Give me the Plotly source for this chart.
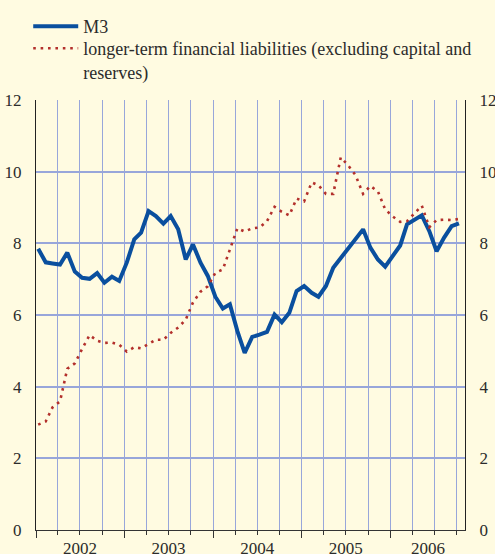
import pandas as pd
import plotly.graph_objects as go

# monthly observations, Jan 2002 onwards (annual percentage changes)
months = pd.date_range("2002-01-01", periods=58, freq="MS") + pd.Timedelta(days=9)

m3 = [7.85, 7.47, 7.44, 7.41, 7.74, 7.21, 7.04, 7.01, 7.17, 6.90, 7.07, 6.95,
      7.46, 8.11, 8.30, 8.90, 8.76, 8.55, 8.76, 8.39, 7.55, 7.97, 7.46, 7.09,
      6.51, 6.18, 6.30, 5.55, 4.94, 5.39, 5.45, 5.53, 6.01, 5.80, 6.06, 6.67,
      6.81, 6.62, 6.51, 6.81, 7.32, 7.60, 7.85, 8.11, 8.39, 7.88, 7.55, 7.35,
      7.65, 7.94, 8.53, 8.67, 8.78, 8.34, 7.78, 8.16, 8.48, 8.56]

longer_term = [2.94, 3.03, 3.42, 3.59, 4.50, 4.65, 5.05, 5.44, 5.28, 5.22, 5.23, 5.17,
               4.98, 5.10, 5.07, 5.20, 5.31, 5.31, 5.50, 5.65, 5.87, 6.35, 6.65, 6.80,
               7.18, 7.27, 7.85, 8.42, 8.33, 8.42, 8.44, 8.62, 9.02, 8.88, 8.78, 9.25,
               9.17, 9.70, 9.62, 9.38, 9.38, 10.40, 10.18, 9.90, 9.38, 9.60, 9.45, 8.95,
               8.75, 8.60, 8.62, 8.85, 9.05, 8.45, 8.65, 8.66, 8.65, 8.68]

year_labels = ["2002", "2003", "2004", "2005", "2006"]
year_label_pos = ["2002-07-01", "2003-07-01", "2004-07-01", "2005-07-01", "2006-06-05"]

x_range = ["2002-01-01", "2006-11-04"]
bg = "#fffbe1"
grid = "#98a6da"
serif = "Liberation Serif"  # a single family name, a list gets ignored
txt = "#2b2b2b"

fig = go.Figure()
fig.add_trace(go.Scatter(x=months, y=m3, name="M3", mode="lines", legend="legend",
                         line=dict(color="#0a4f9e", width=4)))
fig.add_trace(go.Scatter(x=months, y=longer_term, legend="legend2",
                         name="longer-term financial liabilities (excluding capital and<br>reserves)",
                         mode="lines",
                         line=dict(color="#b3302c", width=2.6, dash="2.6px,4.8px")))
# empty trace so the overlay axes are drawn
fig.add_trace(go.Scatter(x=[None], y=[None], xaxis="x2", yaxis="y2", showlegend=False,
                         hoverinfo="skip"))

leg = dict(xref="container", yref="container", x=0.057, xanchor="left", yanchor="top",
           bgcolor="rgba(0,0,0,0)", font=dict(family=serif, size=18, color=txt),
           valign="top", itemwidth=45)

fig.update_layout(
    width=495, height=554,
    paper_bgcolor=bg, plot_bgcolor=bg,
    margin=dict(l=36, r=30, t=100, b=24, autoexpand=False),
    font=dict(family=serif, size=17, color=txt),
    legend=dict(leg, y=0.9856),
    legend2=dict(leg, y=0.9458),
    xaxis=dict(type="date", range=x_range, tick0="2002-01-01", dtick="M12",
               showticklabels=False, ticks="outside", ticklen=7, tickcolor="#333",
               showgrid=True, gridcolor=grid, gridwidth=1,
               showline=True, linecolor="#333", linewidth=1, zeroline=False,
               minor=dict(dtick="M3", tick0="2002-01-01", ticks="outside", ticklen=4,
                          tickcolor="#333", showgrid=True, gridcolor=grid, gridwidth=1)),
    xaxis2=dict(type="date", range=x_range, overlaying="x", side="bottom",
                tickvals=year_label_pos, ticktext=year_labels, ticks="",
                ticklabelstandoff=6,
                showgrid=False, showline=False, zeroline=False,
                tickfont=dict(family=serif, size=17, color=txt)),
    yaxis=dict(range=[0, 12], dtick=2, showgrid=True, gridcolor=grid, gridwidth=1.5,
               showline=True, linecolor="#222", linewidth=1, zeroline=False,
               ticks="", ticklabelstandoff=10,
               tickfont=dict(family=serif, size=17, color=txt)),
    yaxis2=dict(range=[0, 12], dtick=2, overlaying="y", side="right", showgrid=False,
                showline=True, linecolor="#222", linewidth=1, zeroline=False,
                ticks="", ticklabelstandoff=10,
                tickfont=dict(family=serif, size=17, color=txt)),
    showlegend=True,
)

# drop the default page margin so the figure sits at the window's corner
fig.write_html("out.html", config={"displayModeBar": False},
               post_script="document.body.style.margin='0';"
                           "document.body.style.background='%s';" % bg)
